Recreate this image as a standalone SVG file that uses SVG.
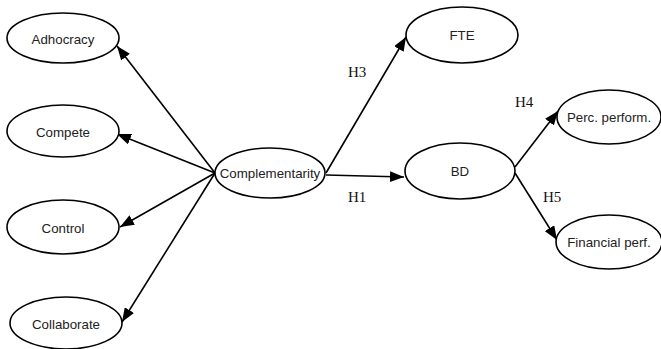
<svg xmlns="http://www.w3.org/2000/svg" width="661" height="349" viewBox="0 0 661 349">
<style>
.n ellipse{fill:#fff;stroke:#000;stroke-width:1.6}
.n text{font-family:"Liberation Sans",Arial,sans-serif;font-size:13.3px;fill:#222;text-anchor:middle;dominant-baseline:central}
.e line{stroke:#000;stroke-width:1.6;marker-end:url(#ah)}
.h{font-family:"Liberation Serif","Times New Roman",serif;font-size:15px;fill:#111}
</style>
<defs>
<marker id="ah" markerUnits="userSpaceOnUse" markerWidth="15" markerHeight="11" refX="14" refY="5.5" orient="auto">
<path d="M0,0 L14,5.5 L0,11 Z" fill="#000"/>
</marker>
</defs>
<rect width="661" height="349" fill="#fff"/>
<g id="edges" class="e">
<line x1="215" y1="173" x2="117" y2="46"/>
<line x1="215" y1="173" x2="117" y2="134"/>
<line x1="215" y1="173" x2="120" y2="227"/>
<line x1="215" y1="173" x2="122" y2="322"/>
<line x1="326" y1="173" x2="406" y2="37"/>
<line x1="326" y1="175" x2="404" y2="177"/>
<line x1="515" y1="167" x2="558" y2="111"/>
<line x1="515" y1="173" x2="557" y2="240"/>
</g>
<g id="labels">
<text class="h" x="348" y="77">H3</text>
<text class="h" x="348" y="202">H1</text>
<text class="h" x="515" y="107">H4</text>
<text class="h" x="543" y="202">H5</text>
</g>
<g id="adhocracy" class="n"><ellipse cx="63" cy="38" rx="56" ry="25"/><text x="63" y="39">Adhocracy</text></g>
<g id="compete" class="n"><ellipse cx="63" cy="131" rx="56" ry="26"/><text x="63" y="132">Compete</text></g>
<g id="control" class="n"><ellipse cx="63" cy="227" rx="56" ry="27"/><text x="63" y="228">Control</text></g>
<g id="collaborate" class="n"><ellipse cx="66" cy="323" rx="56" ry="26"/><text x="66" y="324">Collaborate</text></g>
<g id="complementarity" class="n"><ellipse cx="270" cy="173" rx="55" ry="25"/><text x="270" y="173">Complementarity</text></g>
<g id="fte" class="n"><ellipse cx="462" cy="35" rx="56" ry="28"/><text x="462" y="35">FTE</text></g>
<g id="bd" class="n"><ellipse cx="460" cy="171" rx="55" ry="28"/><text x="460" y="171">BD</text></g>
<g id="perc" class="n"><ellipse cx="609" cy="117" rx="52" ry="27"/><text x="609" y="117">Perc. perform.</text></g>
<g id="financial" class="n"><ellipse cx="609" cy="242" rx="53" ry="27"/><text x="609" y="242">Financial perf.</text></g>
</svg>
